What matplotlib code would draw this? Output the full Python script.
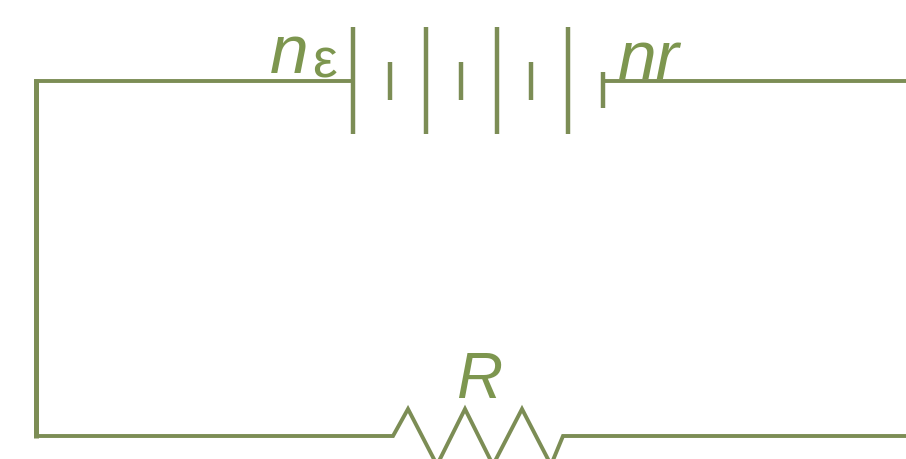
import matplotlib
matplotlib.use("Agg")
import matplotlib.pyplot as plt

# Circuit geometry (pixels, y down)
wire_x = [353, 36, 36, 393, 408, 437, 465, 493, 522, 551, 563, 906]
wire_y = [81, 81, 436, 436, 409, 465, 409, 465, 409, 465, 436, 436]
left_side_x = [36, 36]
left_side_y = [79, 438]
right_wire_x = [603, 906]
right_wire_y = [81, 81]

long_plates = [353, 426, 497, 568]
long_top = [27, 27, 27, 27]
long_bottom = [134, 134, 134, 134]
short_plates = [390, 461, 531, 603]
short_top = [62, 62, 62, 72]
short_bottom = [100, 100, 100, 108]

color = "#7c8d55"
text_color = "#7d964f"

fig = plt.figure(figsize=(9.06, 4.59), dpi=100)
ax = fig.add_axes([0, 0, 1, 1])
ax.set_xlim(0, 906)
ax.set_ylim(459, 0)
ax.axis("off")

# Wires and resistor
ax.plot(wire_x, wire_y, color=color, lw=2.8, solid_joinstyle="miter")
ax.plot(left_side_x, left_side_y, color=color, lw=3.6, solid_capstyle="butt")
ax.plot(right_wire_x, right_wire_y, color=color, lw=2.8)

# Battery plates
ax.vlines(long_plates, long_top, long_bottom, color=color, lw=3.2)
ax.vlines(short_plates, short_top, short_bottom, color=color, lw=3.2)

# Labels
ax.text(270, 73, "n", color=text_color, fontsize=50, style="italic", family="Liberation Sans")
ax.text(312, 77, "ε", color=text_color, fontsize=40, family="Liberation Sans")
ax.text(618, 79, "nr", color=text_color, fontsize=50, style="italic", family="Liberation Sans")
ax.text(456, 398, "R", color=text_color, fontsize=46, style="italic", family="Liberation Sans")

fig.savefig("out.png", dpi=100)
